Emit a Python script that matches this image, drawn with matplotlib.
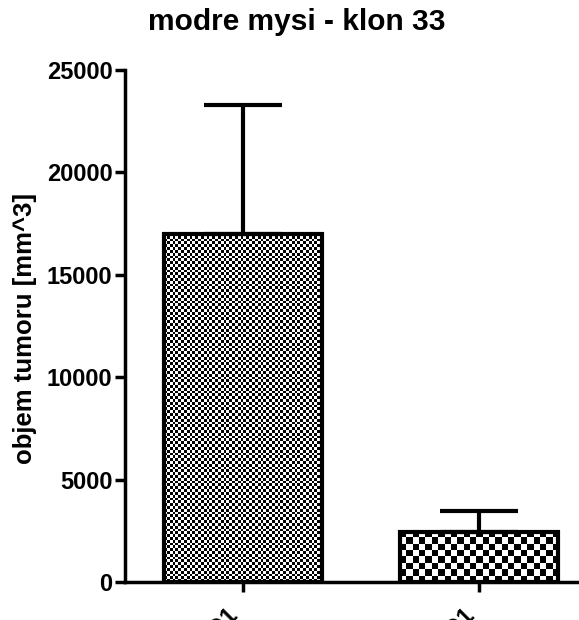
import numpy as np
import matplotlib
matplotlib.use("Agg")
import matplotlib.pyplot as plt

plt.rcParams["font.family"] = ["Liberation Sans", "DejaVu Sans"]
plt.rcParams["font.weight"] = "bold"

groups = ["kontrola D1", "klon 33 D1"]
means = [17000, 2450]
sem = [6300, 1000]
checker_px = [2.8, 6.4]  # size of one checker square, in pixels

fig = plt.figure(figsize=(5.79, 6.2), dpi=100)
ax = fig.add_axes([0.216, 0.0613, 0.784, 0.8258])

x = np.arange(len(groups))
bars = ax.bar(x, means, width=0.67, facecolor="none", edgecolor="black",
              linewidth=3, zorder=3)
ax.errorbar(x, means, yerr=[np.zeros(len(sem)), sem], fmt="none",
            ecolor="black", elinewidth=3, capsize=28, capthick=3, zorder=2)

ax.set_xlim(-0.5, 1.424)
ax.set_ylim(0, 25000)
ax.set_yticks([0, 5000, 10000, 15000, 20000, 25000])
ax.set_xticks(x)
ax.set_xticklabels(groups, rotation=45, ha="right", fontsize=17, fontweight="bold")
ax.tick_params(axis="y", labelsize=17, width=2.5, length=7, pad=2)
ax.tick_params(axis="x", width=2.5, length=7, pad=9)
for lab in ax.get_yticklabels():
    lab.set_fontweight("bold")
for lab in ax.get_xticklabels():
    lab.set_x(lab.get_position()[0])
for side in ["top", "right"]:
    ax.spines[side].set_visible(False)
for side in ["left", "bottom"]:
    ax.spines[side].set_linewidth(2.5)
    ax.spines[side].set_clip_on(False)

# checkerboard fill, clipped to each bar
fig.canvas.draw()
for b, sq in zip(bars, checker_px):
    x0, y0 = b.get_x(), b.get_y()
    w, h = b.get_width(), b.get_height()
    p0 = ax.transData.transform((x0, y0))
    p1 = ax.transData.transform((x0 + w, y0 + h))
    nx = max(1, int(round((p1[0] - p0[0]) / sq)))
    ny = max(1, int(round((p1[1] - p0[1]) / sq)))
    grid = (np.add.outer(np.arange(ny), np.arange(nx)) % 2).astype(float)
    im = ax.imshow(grid, cmap="gray", extent=(x0, x0 + w, y0, y0 + h),
                   interpolation="nearest", aspect="auto", zorder=1)
    im.set_clip_path(b)
ax.set_xlim(-0.5, 1.424)
ax.set_ylim(0, 25000)

ax.set_ylabel("objem tumoru [mm^3]", fontsize=18.5, fontweight="bold")
ax.yaxis.set_label_coords(-0.194, 0.496)
fig.text(297 / 579, 1 - 22 / 620, "modre mysi - klon 33", ha="center",
         va="center", fontsize=21.5, fontweight="bold")

fig.savefig("out.png", dpi=100)
